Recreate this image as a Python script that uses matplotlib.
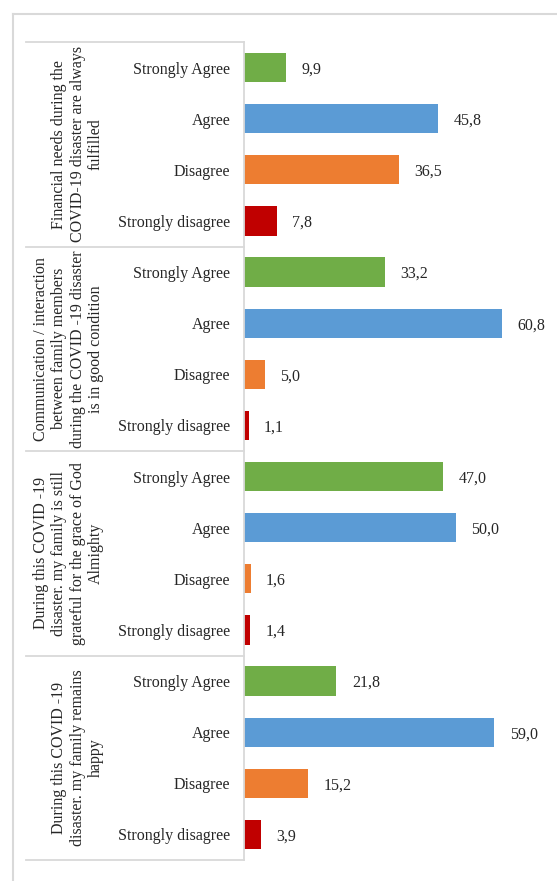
import numpy as np
import matplotlib
matplotlib.use("Agg")
import matplotlib.pyplot as plt
from matplotlib.lines import Line2D
from matplotlib.transforms import blended_transform_factory

# data
groups = [
    "Financial needs during the\nCOVID-19 disaster are always\nfulfilled",
    "Communication / interaction\nbetween family members\nduring the COVID -19 disaster\nis in good condition",
    "During this COVID -19\ndisaster. my family is still\ngrateful for the grace of God\nAlmighty",
    "During this COVID -19\ndisaster. my family remains\nhappy",
]
answers = ["Strongly Agree", "Agree", "Disagree", "Strongly disagree"]
financial = [9.9, 45.8, 36.5, 7.8]
communication = [33.2, 60.8, 5.0, 1.1]
grateful = [47.0, 50.0, 1.6, 1.4]
happy = [21.8, 59.0, 15.2, 3.9]
colors = ["#70AD47", "#5B9BD5", "#ED7D31", "#C00000"]

plt.rcParams["font.family"] = ["Liberation Serif", "DejaVu Serif"]
FS = 11.5
GRID = "#d9d9d9"

W, H = 557, 881
fig = plt.figure(figsize=(W / 100, H / 100), dpi=100)
ax_left, ax_right = 244 / W, 541 / W
ax_top, ax_bot = 1 - 42 / H, 1 - 860 / H
ax = fig.add_axes([ax_left, ax_bot, ax_right - ax_left, ax_top - ax_bot])

all_vals = [financial, communication, grateful, happy]
ypos = np.arange(len(groups) * len(answers))
values = [v for g in all_vals for v in g]
bar_colors = colors * len(groups)
labels = answers * len(groups)

ax.barh(ypos, values, height=0.57, color=bar_colors, left=0)
for y, v in zip(ypos, values):
    ax.annotate(f"{v:.1f}".replace(".", ","), (v, y), xytext=(11, 0),
                textcoords="offset points", va="center_baseline", ha="left",
                fontsize=FS, color="#262626", annotation_clip=False)

ax.set_xlim(0, 70)
ax.set_ylim(len(ypos) - 0.5, -0.5)
ax.set_yticks(ypos, labels, fontsize=FS, color="#262626")
ax.tick_params(axis="y", length=0, pad=10)
ax.set_xticks([])
for s in ["top", "right", "bottom"]:
    ax.spines[s].set_visible(False)
ax.spines["left"].set_color(GRID)
ax.spines["left"].set_linewidth(1.3)

# group separators and group labels
tr = blended_transform_factory(fig.transFigure, ax.transData)
n = len(answers)
for k, g in enumerate(groups):
    y0 = k * n - 0.5
    ax.add_line(Line2D([26 / W, ax_left], [y0, y0], transform=tr,
                       color=GRID, lw=1.3, clip_on=False))
    ax.text(104 / W, k * n + (n - 1) / 2, g, transform=tr, rotation=90,
            ha="right", va="center", multialignment="center",
            fontsize=FS, color="#262626", linespacing=1.2)
yend = len(ypos) - 0.5
ax.add_line(Line2D([26 / W, ax_left], [yend, yend], transform=tr,
                   color=GRID, lw=1.3, clip_on=False))

# outer chart frame (left and top edges visible)
fig.add_artist(Line2D([13 / W, 13 / W], [0, 1 - 14 / H], color=GRID, lw=1.5))
fig.add_artist(Line2D([13 / W, 1], [1 - 14 / H, 1 - 14 / H], color=GRID, lw=1.5))

fig.savefig("out.png", dpi=100)
